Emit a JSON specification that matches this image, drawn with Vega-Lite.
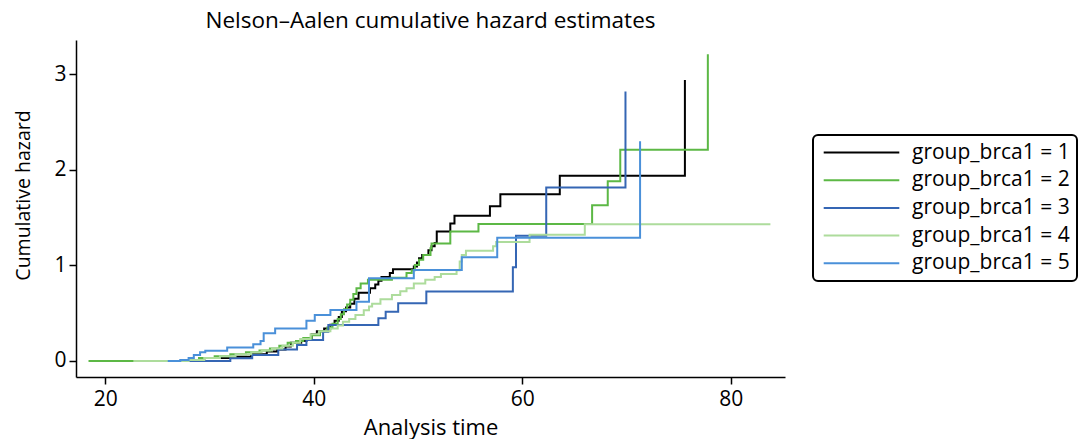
{
  "$schema": "https://vega.github.io/schema/vega-lite/v6.json",
  "width": 709,
  "height": 337,
  "autosize": {"type": "none"},
  "padding": {"left": 76, "top": 40, "right": 298, "bottom": 62},
  "background": "white",
  "title": {"text": "Nelson–Aalen cumulative hazard estimates", "fontSize": 22.5, "fontWeight": "normal", "font": "Open Sans", "color": "black", "anchor": "middle", "offset": 8},
  "config": {
    "view": {"stroke": null},
    "axis": {"grid": false, "domainColor": "black", "domainWidth": 1.5, "tickColor": "black", "tickWidth": 1.5, "tickSize": 7, "labelFont": "Open Sans", "labelFontSize": 21, "labelColor": "black", "titleFont": "Open Sans", "titleFontWeight": "normal", "titleColor": "black"}
  },
  "data": {"values": [
    {"g":1,"t":25.0,"h":0},{"g":1,"t":29.5,"h":0.03},{"g":1,"t":32.0,"h":0.045},{"g":1,"t":34.0,"h":0.07},{"g":1,"t":35.5,"h":0.10},{"g":1,"t":36.5,"h":0.12},{"g":1,"t":37.3,"h":0.15},{"g":1,"t":37.8,"h":0.19},{"g":1,"t":38.8,"h":0.21},{"g":1,"t":39.3,"h":0.24},{"g":1,"t":39.8,"h":0.28},{"g":1,"t":40.3,"h":0.31},{"g":1,"t":41.0,"h":0.34},{"g":1,"t":41.6,"h":0.38},{"g":1,"t":42.0,"h":0.42},{"g":1,"t":42.4,"h":0.46},{"g":1,"t":42.7,"h":0.52},{"g":1,"t":43.1,"h":0.56},{"g":1,"t":43.5,"h":0.60},{"g":1,"t":43.9,"h":0.65},{"g":1,"t":44.3,"h":0.715},{"g":1,"t":45.4,"h":0.76},{"g":1,"t":45.9,"h":0.80},{"g":1,"t":46.2,"h":0.84},{"g":1,"t":46.5,"h":0.88},{"g":1,"t":47.3,"h":0.92},{"g":1,"t":47.6,"h":0.96},{"g":1,"t":49.6,"h":0.99},{"g":1,"t":49.9,"h":1.03},{"g":1,"t":50.1,"h":1.075},{"g":1,"t":50.4,"h":1.11},{"g":1,"t":51.0,"h":1.16},{"g":1,"t":51.3,"h":1.20},{"g":1,"t":51.6,"h":1.235},{"g":1,"t":51.8,"h":1.355},{"g":1,"t":53.1,"h":1.44},{"g":1,"t":53.5,"h":1.52},{"g":1,"t":56.9,"h":1.62},{"g":1,"t":57.9,"h":1.745},{"g":1,"t":63.6,"h":1.94},{"g":1,"t":75.6,"h":2.94},
    {"g":2,"t":18.4,"h":0},{"g":2,"t":27.5,"h":0.01},{"g":2,"t":29.0,"h":0.03},{"g":2,"t":30.5,"h":0.05},{"g":2,"t":32.0,"h":0.07},{"g":2,"t":33.5,"h":0.09},{"g":2,"t":34.8,"h":0.11},{"g":2,"t":35.8,"h":0.13},{"g":2,"t":36.7,"h":0.16},{"g":2,"t":37.5,"h":0.19},{"g":2,"t":38.3,"h":0.21},{"g":2,"t":39.0,"h":0.24},{"g":2,"t":39.8,"h":0.27},{"g":2,"t":40.6,"h":0.31},{"g":2,"t":41.3,"h":0.35},{"g":2,"t":41.8,"h":0.39},{"g":2,"t":42.3,"h":0.44},{"g":2,"t":42.6,"h":0.49},{"g":2,"t":42.9,"h":0.54},{"g":2,"t":43.2,"h":0.59},{"g":2,"t":43.5,"h":0.64},{"g":2,"t":43.8,"h":0.70},{"g":2,"t":44.1,"h":0.76},{"g":2,"t":44.5,"h":0.81},{"g":2,"t":45.2,"h":0.85},{"g":2,"t":47.5,"h":0.87},{"g":2,"t":48.9,"h":0.92},{"g":2,"t":49.4,"h":0.95},{"g":2,"t":49.7,"h":1.005},{"g":2,"t":50.1,"h":1.06},{"g":2,"t":50.5,"h":1.11},{"g":2,"t":51.2,"h":1.18},{"g":2,"t":51.3,"h":1.23},{"g":2,"t":53.1,"h":1.355},{"g":2,"t":55.8,"h":1.435},{"g":2,"t":66.7,"h":1.63},{"g":2,"t":68.2,"h":1.88},{"g":2,"t":69.4,"h":2.21},{"g":2,"t":77.8,"h":3.21},
    {"g":3,"t":27.5,"h":0},{"g":3,"t":32.0,"h":0.028},{"g":3,"t":34.1,"h":0.063},{"g":3,"t":36.6,"h":0.12},{"g":3,"t":38.4,"h":0.168},{"g":3,"t":39.3,"h":0.22},{"g":3,"t":40.9,"h":0.307},{"g":3,"t":41.4,"h":0.377},{"g":3,"t":46.2,"h":0.447},{"g":3,"t":46.9,"h":0.516},{"g":3,"t":48.1,"h":0.604},{"g":3,"t":50.8,"h":0.726},{"g":3,"t":59.1,"h":0.98},{"g":3,"t":59.4,"h":1.31},{"g":3,"t":62.3,"h":1.815},{"g":3,"t":69.9,"h":2.82},
    {"g":4,"t":22.7,"h":0},{"g":4,"t":28.0,"h":0.01},{"g":4,"t":29.5,"h":0.03},{"g":4,"t":31.0,"h":0.05},{"g":4,"t":32.5,"h":0.07},{"g":4,"t":34.0,"h":0.09},{"g":4,"t":35.0,"h":0.11},{"g":4,"t":36.0,"h":0.13},{"g":4,"t":37.0,"h":0.16},{"g":4,"t":38.0,"h":0.19},{"g":4,"t":38.7,"h":0.23},{"g":4,"t":39.7,"h":0.28},{"g":4,"t":40.5,"h":0.31},{"g":4,"t":41.6,"h":0.34},{"g":4,"t":42.3,"h":0.37},{"g":4,"t":42.8,"h":0.41},{"g":4,"t":43.4,"h":0.44},{"g":4,"t":44.0,"h":0.48},{"g":4,"t":44.8,"h":0.53},{"g":4,"t":45.3,"h":0.57},{"g":4,"t":45.6,"h":0.60},{"g":4,"t":46.4,"h":0.645},{"g":4,"t":47.5,"h":0.69},{"g":4,"t":48.3,"h":0.73},{"g":4,"t":48.9,"h":0.76},{"g":4,"t":49.6,"h":0.81},{"g":4,"t":50.7,"h":0.85},{"g":4,"t":51.6,"h":0.88},{"g":4,"t":52.2,"h":0.91},{"g":4,"t":53.7,"h":0.95},{"g":4,"t":54.0,"h":1.04},{"g":4,"t":54.2,"h":1.11},{"g":4,"t":54.6,"h":1.155},{"g":4,"t":57.2,"h":1.20},{"g":4,"t":57.5,"h":1.245},{"g":4,"t":60.7,"h":1.32},{"g":4,"t":66.0,"h":1.43},{"g":4,"t":83.8,"h":1.43},
    {"g":5,"t":26.0,"h":0},{"g":5,"t":27.2,"h":0.01},{"g":5,"t":28.0,"h":0.03},{"g":5,"t":28.5,"h":0.063},{"g":5,"t":29.1,"h":0.09},{"g":5,"t":29.6,"h":0.107},{"g":5,"t":31.7,"h":0.14},{"g":5,"t":34.2,"h":0.175},{"g":5,"t":34.9,"h":0.21},{"g":5,"t":35.2,"h":0.29},{"g":5,"t":36.3,"h":0.34},{"g":5,"t":39.3,"h":0.42},{"g":5,"t":40.1,"h":0.48},{"g":5,"t":41.6,"h":0.534},{"g":5,"t":44.1,"h":0.62},{"g":5,"t":45.3,"h":0.866},{"g":5,"t":49.6,"h":0.953},{"g":5,"t":54.2,"h":1.086},{"g":5,"t":57.6,"h":1.29},{"g":5,"t":71.3,"h":2.30}
  ]},
  "mark": {"type": "line", "interpolate": "step-after", "strokeWidth": 2},
  "encoding": {
    "x": {"field": "t", "type": "quantitative", "scale": {"domain": [17.2, 85.2], "nice": false, "zero": false}, "axis": {"values": [20, 40, 60, 80], "title": "Analysis time", "titleFontSize": 22, "labelPadding": 4, "titlePadding": 8}},
    "y": {"field": "h", "type": "quantitative", "scale": {"domain": [-0.168, 3.36], "nice": false, "zero": false}, "axis": {"values": [0, 1, 2, 3], "title": "Cumulative hazard", "titleFontSize": 19.5, "labelAngle": 0, "labelPadding": 3, "titleX": -43, "titleY": 155}},
    "color": {"field": "g", "type": "nominal", "scale": {"domain": [1, 2, 3, 4, 5], "range": ["#000000", "#5cb845", "#3566b4", "#addc9c", "#4a90d9"]},
      "legend": {"orient": "none", "legendX": 737, "legendY": 95, "title": null, "symbolType": "M-5.4,0H5.4", "symbolSize": 196, "symbolStrokeWidth": 2, "symbolOffset": 31, "labelFont": "Open Sans", "labelFontSize": 21, "labelColor": "black", "labelOffset": 40, "labelExpr": "'group_brca1 = ' + datum.label", "strokeColor": "black", "cornerRadius": 5, "padding": 7, "rowPadding": 5.7, "encode": {"legend": {"update": {"strokeWidth": {"value": 2}}}}}}
  }
}
